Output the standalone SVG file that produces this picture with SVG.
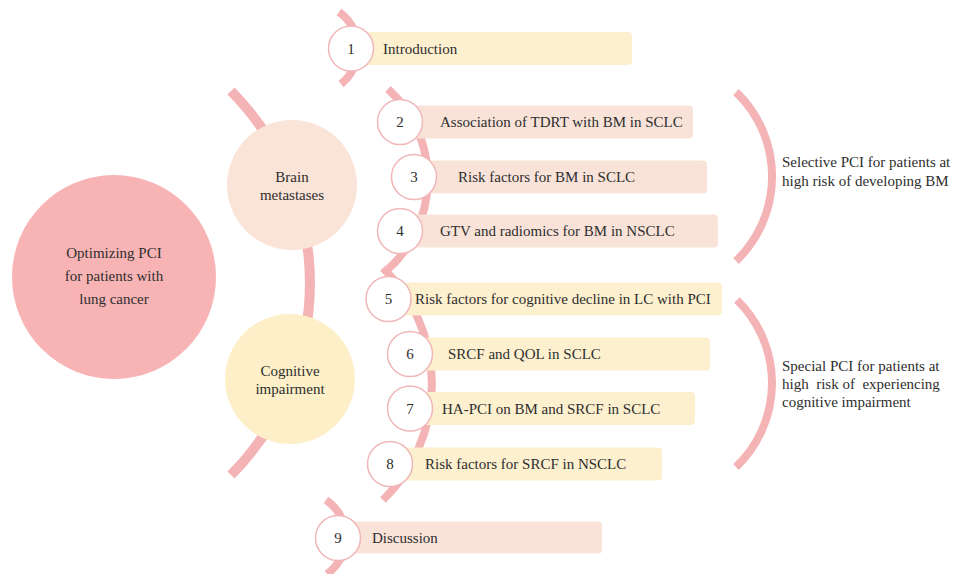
<svg xmlns="http://www.w3.org/2000/svg" width="956" height="574" viewBox="0 0 956 574">
<style>
text{font-family:"Liberation Serif","Times New Roman",serif;font-size:15px;fill:#2e2e2e}
.mid{text-anchor:middle}
.arc{fill:none;stroke:#f4b3b5;stroke-width:8}
.big{stroke-width:10}
.num{fill:#ffffff;stroke:#f0b6b8;stroke-width:1.5}
.bp{fill:#f9e3d9}
.by{fill:#fdf0cf}
</style>
<rect width="956" height="574" fill="#ffffff"/>
<g id="connectors">
<path class="arc big" d="M231,91 A273,273 0 0 1 231,475"/>
<path class="arc" d="M339,12 A45,45 0 0 1 341,84"/>
<path class="arc" d="M388,89 A122,122 0 0 1 385,272"/>
<path class="arc" d="M383,268 A162,162 0 0 1 383,500"/>
<path class="arc" d="M326,500 A45,45 0 0 1 327,574"/>
<path class="arc" d="M736,92 A117,117 0 0 1 736,261"/>
<path class="arc" d="M737,300 A116,116 0 0 1 736,467"/>
</g>
<g id="main">
<circle cx="114" cy="277" r="102" fill="#f8b4b5"/>
<text class="mid" x="114" y="258">Optimizing PCI</text>
<text class="mid" x="114" y="281">for patients with</text>
<text class="mid" x="114" y="304">lung cancer</text>
</g>
<g id="brain">
<circle cx="292" cy="185" r="65" fill="#fae3d7"/>
<text class="mid" x="292" y="182">Brain</text>
<text class="mid" x="292" y="200">metastases</text>
</g>
<g id="cognitive">
<circle cx="290" cy="379" r="65" fill="#fdefc8"/>
<text class="mid" x="290" y="376">Cognitive</text>
<text class="mid" x="290" y="394">impairment</text>
</g>
<g id="item1">
<rect class="by" x="351" y="32" width="281" height="33" rx="4"/>
<circle class="num" cx="351" cy="48.5" r="22.5"/>
<text class="mid" x="351" y="53.5">1</text>
<text x="383" y="53.5">Introduction</text>
</g>
<g id="item2">
<rect class="bp" x="400" y="105.5" width="293" height="33" rx="4"/>
<circle class="num" cx="400" cy="122" r="22.5"/>
<text class="mid" x="400" y="127">2</text>
<text x="440" y="127">Association of TDRT with BM in SCLC</text>
</g>
<g id="item3">
<rect class="bp" x="414" y="160.5" width="293" height="33" rx="4"/>
<circle class="num" cx="414" cy="177" r="22.5"/>
<text class="mid" x="414" y="182">3</text>
<text x="458" y="182">Risk factors for BM in SCLC</text>
</g>
<g id="item4">
<rect class="bp" x="400" y="214.5" width="318" height="33" rx="4"/>
<circle class="num" cx="400" cy="231" r="22.5"/>
<text class="mid" x="400" y="236">4</text>
<text x="440" y="236">GTV and radiomics for BM in NSCLC</text>
</g>
<g id="item5">
<rect class="by" x="388.5" y="282.5" width="333.5" height="33" rx="4"/>
<circle class="num" cx="388.5" cy="299" r="22.5"/>
<text class="mid" x="388.5" y="304">5</text>
<text x="415" y="304">Risk factors for cognitive decline in LC with PCI</text>
</g>
<g id="item6">
<rect class="by" x="410" y="337.5" width="300" height="33" rx="4"/>
<circle class="num" cx="410" cy="354" r="22.5"/>
<text class="mid" x="410" y="359">6</text>
<text x="448" y="359">SRCF and QOL in SCLC</text>
</g>
<g id="item7">
<rect class="by" x="410" y="392" width="285" height="33" rx="4"/>
<circle class="num" cx="410" cy="408.5" r="22.5"/>
<text class="mid" x="410" y="413.5">7</text>
<text x="442" y="413.5">HA-PCI on BM and SRCF in SCLC</text>
</g>
<g id="item8">
<rect class="by" x="390" y="447.5" width="272" height="33" rx="4"/>
<circle class="num" cx="390" cy="464" r="22.5"/>
<text class="mid" x="390" y="469">8</text>
<text x="425" y="469">Risk factors for SRCF in NSCLC</text>
</g>
<g id="item9">
<rect class="bp" x="338" y="521.5" width="264" height="32" rx="4"/>
<circle class="num" cx="338" cy="538" r="22.5"/>
<text class="mid" x="338" y="543">9</text>
<text x="372" y="543">Discussion</text>
</g>
<g id="note1">
<text x="782" y="167">Selective PCI for patients at</text>
<text x="782" y="186">high risk of developing BM</text>
</g>
<g id="note2">
<text x="782" y="371">Special PCI for patients at</text>
<text x="782" y="389" xml:space="preserve">high  risk of  experiencing</text>
<text x="782" y="407">cognitive impairment</text>
</g>
</svg>
